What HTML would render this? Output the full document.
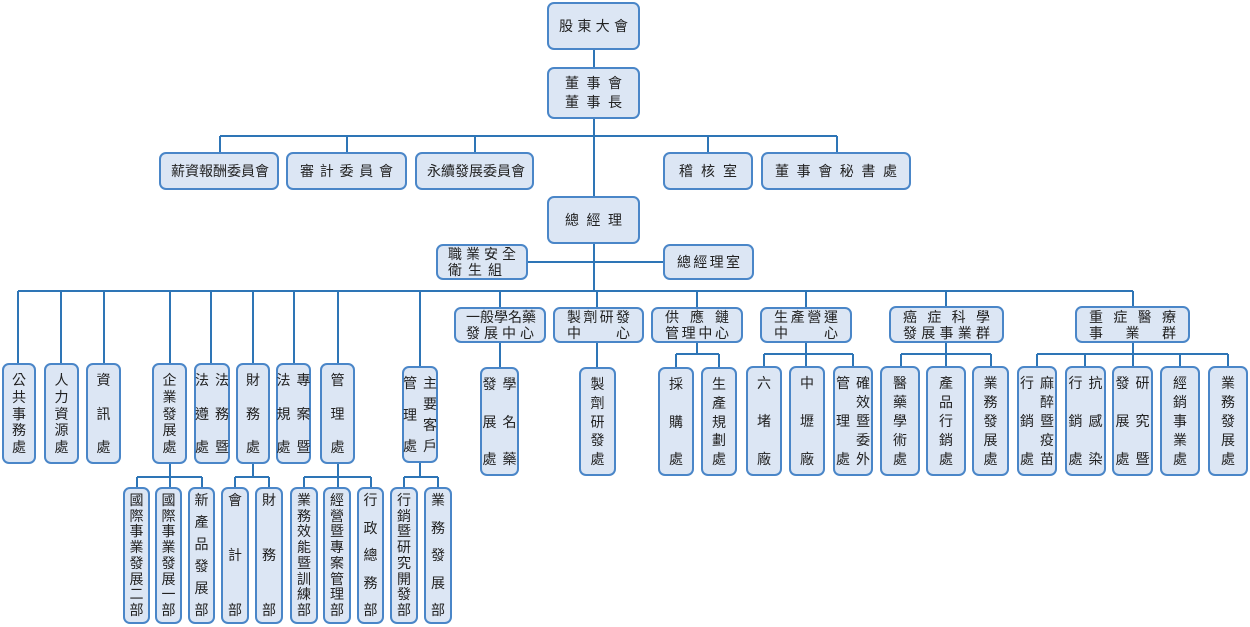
<!DOCTYPE html>
<html><head><meta charset="utf-8"><style>
*{margin:0;padding:0;box-sizing:border-box}
body{width:1250px;height:627px;background:#fff;position:relative;overflow:hidden;font-family:"Liberation Sans","Noto Sans CJK TC",sans-serif;font-size:14px;color:#222}
svg{position:absolute;left:0;top:0}
.b{position:absolute;background:#dce6f4;border:2px solid #4a86c8;border-radius:7px}
.h{display:flex;flex-direction:column;justify-content:center;padding:0 14px;line-height:19px}
.h div{display:flex;justify-content:space-between}
.v{display:flex;flex-direction:row-reverse;justify-content:center;gap:6px;padding:7px 0}
.v div{display:flex;flex-direction:column;justify-content:space-between;line-height:16px}
.v span{display:block}
.s{padding:4px 0}
.s div{line-height:15px}
</style></head><body>
<svg width="1250" height="627" fill="none" stroke="#2e75b6" stroke-width="2">
<path d="M594 50V67M594 119V196M220 136H837M220 136V152M347 136V152M475 136V152M708 136V152M837 136V152M594 244V291M528 262H663M18 291H1133"/>
<path d="M18 291V363M61 291V363M104 291V363M170 291V363M211 291V363M253 291V363M294 291V363M338 291V363M420 291V366"/>
<path d="M500 291V307M597 291V307M697 291V307M806 291V307M946 291V307M1133 291V307"/>
<path d="M500 343V367M597 343V367M697 343V354M676 354H719M676 354V367M719 354V367M806 343V366M764 354H853M764 354V366M853 354V366M946 343V366M901 354H991M901 354V366M991 354V366M1133 343V366M1037 354H1228M1037 354V366M1085 354V366M1180 354V366M1228 354V366"/>
<path d="M170 464V487M137 477H202M137 477V487M202 477V487M253 464V477M235 477H269M235 477V487M269 477V487M338 464V487M304 477H371M304 477V487M371 477V487M420 463V477M404 477H438M404 477V487M438 477V487"/>
</svg>
<div class="b h" style="left:547px;top:2px;width:93px;height:48px;padding:0 10px"><div><span>股</span><span>東</span><span>大</span><span>會</span></div></div>
<div class="b h" style="left:547px;top:67px;width:93px;height:52px;padding:0 16px"><div><span>董</span><span>事</span><span>會</span></div><div><span>董</span><span>事</span><span>長</span></div></div>
<div class="b h" style="left:159px;top:152px;width:120px;height:38px;padding:0 10px"><div><span>薪</span><span>資</span><span>報</span><span>酬</span><span>委</span><span>員</span><span>會</span></div></div>
<div class="b h" style="left:286px;top:152px;width:121px;height:38px;padding:0 12px"><div><span>審</span><span>計</span><span>委</span><span>員</span><span>會</span></div></div>
<div class="b h" style="left:415px;top:152px;width:119px;height:38px;padding:0 10px"><div><span>永</span><span>續</span><span>發</span><span>展</span><span>委</span><span>員</span><span>會</span></div></div>
<div class="b h" style="left:663px;top:152px;width:90px;height:38px;padding:0 14px"><div><span>稽</span><span>核</span><span>室</span></div></div>
<div class="b h" style="left:761px;top:152px;width:150px;height:38px;padding:0 12px"><div><span>董</span><span>事</span><span>會</span><span>秘</span><span>書</span><span>處</span></div></div>
<div class="b h" style="left:547px;top:196px;width:93px;height:48px;padding:0 16px"><div><span>總</span><span>經</span><span>理</span></div></div>
<div class="b h" style="left:436px;top:244px;width:92px;height:36px;padding:0 10px;line-height:16px"><div><span>職</span><span>業</span><span>安</span><span>全</span></div><div style="padding-right:14px"><span>衛</span><span>生</span><span>組</span></div></div>
<div class="b h" style="left:663px;top:244px;width:91px;height:36px;padding:0 12px"><div><span>總</span><span>經</span><span>理</span><span>室</span></div></div>
<div class="b h" style="left:454px;top:307px;width:92px;height:36px;padding:0 10px;line-height:16px"><div><span>一</span><span>般</span><span>學</span><span>名</span><span>藥</span></div><div><span>發</span><span>展</span><span>中</span><span>心</span></div></div>
<div class="b h" style="left:553px;top:307px;width:91px;height:36px;padding:0 12px;line-height:16px"><div><span>製</span><span>劑</span><span>研</span><span>發</span></div><div><span>中</span><span>心</span></div></div>
<div class="b h" style="left:651px;top:307px;width:92px;height:36px;padding:0 12px;line-height:16px"><div><span>供</span><span>應</span><span>鏈</span></div><div><span>管</span><span>理</span><span>中</span><span>心</span></div></div>
<div class="b h" style="left:760px;top:307px;width:92px;height:36px;padding:0 12px;line-height:16px"><div><span>生</span><span>產</span><span>營</span><span>運</span></div><div><span>中</span><span>心</span></div></div>
<div class="b h" style="left:889px;top:306px;width:115px;height:37px;padding:0 12px;line-height:16px"><div><span>癌</span><span>症</span><span>科</span><span>學</span></div><div><span>發</span><span>展</span><span>事</span><span>業</span><span>群</span></div></div>
<div class="b h" style="left:1075px;top:306px;width:115px;height:37px;padding:0 12px;line-height:16px"><div><span>重</span><span>症</span><span>醫</span><span>療</span></div><div><span>事</span><span>業</span><span>群</span></div></div>

<div class="b v" style="left:2px;top:363px;width:34px;height:101px"><div><span>公</span><span>共</span><span>事</span><span>務</span><span>處</span></div></div>
<div class="b v" style="left:44px;top:363px;width:35px;height:101px"><div><span>人</span><span>力</span><span>資</span><span>源</span><span>處</span></div></div>
<div class="b v" style="left:86px;top:363px;width:35px;height:101px"><div><span>資</span><span>訊</span><span>處</span></div></div>
<div class="b v" style="left:152px;top:363px;width:35px;height:101px"><div><span>企</span><span>業</span><span>發</span><span>展</span><span>處</span></div></div>
<div class="b v" style="left:194px;top:363px;width:36px;height:101px"><div><span>法</span><span>務</span><span>暨</span></div><div><span>法</span><span>遵</span><span>處</span></div></div>
<div class="b v" style="left:236px;top:363px;width:34px;height:101px"><div><span>財</span><span>務</span><span>處</span></div></div>
<div class="b v" style="left:276px;top:363px;width:35px;height:101px"><div><span>專</span><span>案</span><span>暨</span></div><div><span>法</span><span>規</span><span>處</span></div></div>
<div class="b v" style="left:320px;top:363px;width:35px;height:101px"><div><span>管</span><span>理</span><span>處</span></div></div>
<div class="b v" style="left:402px;top:366px;width:36px;height:97px"><div><span>主</span><span>要</span><span>客</span><span>戶</span></div><div><span>管</span><span>理</span><span>處</span></div></div>

<div class="b v s" style="left:123px;top:487px;width:27px;height:137px"><div><span>國</span><span>際</span><span>事</span><span>業</span><span>發</span><span>展</span><span>二</span><span>部</span></div></div>
<div class="b v s" style="left:155px;top:487px;width:27px;height:137px"><div><span>國</span><span>際</span><span>事</span><span>業</span><span>發</span><span>展</span><span>一</span><span>部</span></div></div>
<div class="b v s" style="left:188px;top:487px;width:27px;height:137px"><div><span>新</span><span>產</span><span>品</span><span>發</span><span>展</span><span>部</span></div></div>
<div class="b v s" style="left:221px;top:487px;width:28px;height:137px"><div><span>會</span><span>計</span><span>部</span></div></div>
<div class="b v s" style="left:255px;top:487px;width:28px;height:137px"><div><span>財</span><span>務</span><span>部</span></div></div>
<div class="b v s" style="left:290px;top:487px;width:28px;height:137px"><div><span>業</span><span>務</span><span>效</span><span>能</span><span>暨</span><span>訓</span><span>練</span><span>部</span></div></div>
<div class="b v s" style="left:323px;top:487px;width:28px;height:137px"><div><span>經</span><span>營</span><span>暨</span><span>專</span><span>案</span><span>管</span><span>理</span><span>部</span></div></div>
<div class="b v s" style="left:357px;top:487px;width:27px;height:137px"><div><span>行</span><span>政</span><span>總</span><span>務</span><span>部</span></div></div>
<div class="b v s" style="left:390px;top:487px;width:28px;height:137px"><div><span>行</span><span>銷</span><span>暨</span><span>研</span><span>究</span><span>開</span><span>發</span><span>部</span></div></div>
<div class="b v s" style="left:424px;top:487px;width:28px;height:137px"><div><span>業</span><span>務</span><span>發</span><span>展</span><span>部</span></div></div>

<div class="b v" style="left:480px;top:367px;width:39px;height:109px"><div><span>學</span><span>名</span><span>藥</span></div><div><span>發</span><span>展</span><span>處</span></div></div>
<div class="b v" style="left:579px;top:367px;width:37px;height:109px"><div><span>製</span><span>劑</span><span>研</span><span>發</span><span>處</span></div></div>
<div class="b v" style="left:658px;top:367px;width:36px;height:109px"><div><span>採</span><span>購</span><span>處</span></div></div>
<div class="b v" style="left:701px;top:367px;width:36px;height:109px"><div><span>生</span><span>產</span><span>規</span><span>劃</span><span>處</span></div></div>
<div class="b v" style="left:746px;top:366px;width:36px;height:110px"><div><span>六</span><span>堵</span><span>廠</span></div></div>
<div class="b v" style="left:789px;top:366px;width:36px;height:110px"><div><span>中</span><span>壢</span><span>廠</span></div></div>
<div class="b v" style="left:833px;top:366px;width:40px;height:110px"><div><span>確</span><span>效</span><span>暨</span><span>委</span><span>外</span></div><div><span>管</span><span>理</span><span>處</span></div></div>
<div class="b v" style="left:880px;top:366px;width:40px;height:110px"><div><span>醫</span><span>藥</span><span>學</span><span>術</span><span>處</span></div></div>
<div class="b v" style="left:926px;top:366px;width:40px;height:110px"><div><span>產</span><span>品</span><span>行</span><span>銷</span><span>處</span></div></div>
<div class="b v" style="left:972px;top:366px;width:37px;height:110px"><div><span>業</span><span>務</span><span>發</span><span>展</span><span>處</span></div></div>
<div class="b v" style="left:1017px;top:366px;width:40px;height:110px"><div><span>麻</span><span>醉</span><span>暨</span><span>疫</span><span>苗</span></div><div><span>行</span><span>銷</span><span>處</span></div></div>
<div class="b v" style="left:1065px;top:366px;width:41px;height:110px"><div><span>抗</span><span>感</span><span>染</span></div><div><span>行</span><span>銷</span><span>處</span></div></div>
<div class="b v" style="left:1112px;top:366px;width:41px;height:110px"><div><span>研</span><span>究</span><span>暨</span></div><div><span>發</span><span>展</span><span>處</span></div></div>
<div class="b v" style="left:1160px;top:366px;width:40px;height:110px"><div><span>經</span><span>銷</span><span>事</span><span>業</span><span>處</span></div></div>
<div class="b v" style="left:1208px;top:366px;width:40px;height:110px"><div><span>業</span><span>務</span><span>發</span><span>展</span><span>處</span></div></div>
</body></html>
